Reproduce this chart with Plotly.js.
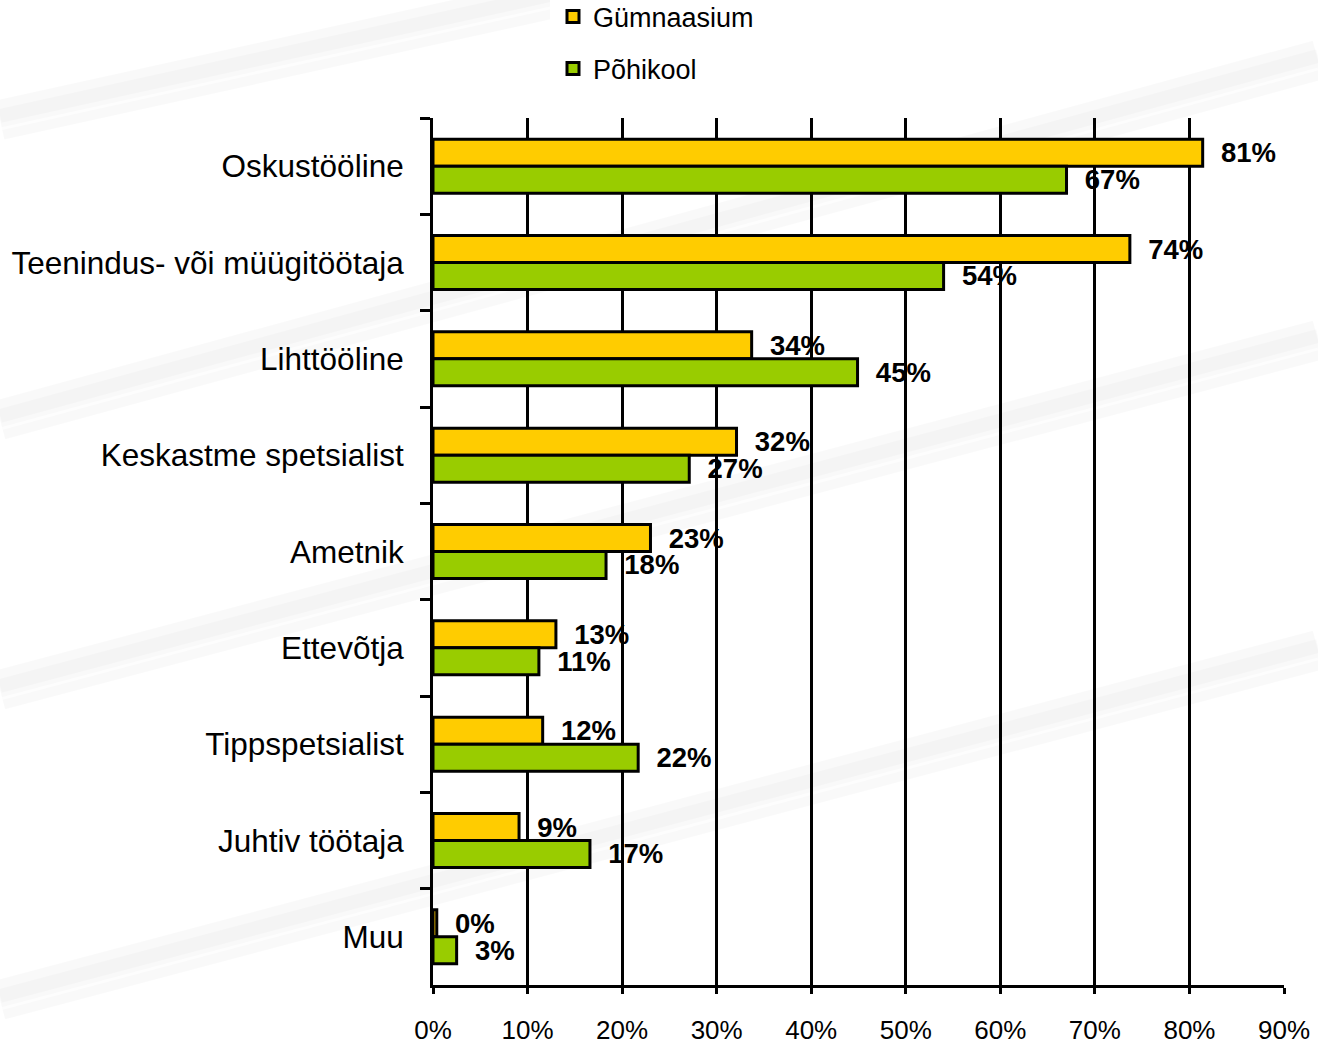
<!DOCTYPE html>
<html>
<head>
<meta charset="utf-8">
<script src="https://cdn.plot.ly/plotly-3.0.1.min.js"></script>
<style>
  html, body { margin: 0; padding: 0; background: #fff; }
  #chart { width: 1318px; height: 1046px; }
</style>
</head>
<body>
<div id="chart"></div>
<script>
// categories, top to bottom
var categories = ["Oskustööline", "Teenindus- või müügitöötaja", "Lihttööline",
  "Keskastme spetsialist", "Ametnik", "Ettevõtja", "Tippspetsialist",
  "Juhtiv töötaja", "Muu"];

// values (%)
var gymnasium = [81.4, 73.7, 33.7, 32.1, 23.0, 13.0, 11.6, 9.1, 0.4];
var basicSchool = [67.0, 54.0, 44.9, 27.1, 18.3, 11.2, 21.7, 16.6, 2.5];

// printed labels
var gymnasiumLabels = ["81%", "74%", "34%", "32%", "23%", "13%", "12%", "9%", "0%"];
var basicSchoolLabels = ["67%", "54%", "45%", "27%", "18%", "11%", "22%", "17%", "3%"];

var xTicks = [0, 10, 20, 30, 40, 50, 60, 70, 80, 90];
var xTickText = xTicks.map(function (v) { return v + "%"; });

var font = "Liberation Sans, Arial, sans-serif";

// plot area in pixels, used to place decorations in paper coords
var L = 433, R = 1284, T = 118, B = 985;
function px(x) { return (x - L) / (R - L); }
function py(y) { return (B - y) / (B - T); }

function barTrace(name, values, labels, color) {
  return {
    type: "bar",
    orientation: "h",
    name: name,
    y: categories,
    x: values,
    text: labels,
    texttemplate: "\u00a0\u00a0%{text}",
    textposition: "outside",
    constraintext: "none",
    cliponaxis: false,
    textfont: { family: font, size: 27.5, color: "#000", weight: "bold" },
    marker: { color: color, line: { color: "#000", width: 3 } },
    showlegend: false,
    hoverinfo: "x+y"
  };
}

// legend-only entries (square swatches with a heavy black rim)
function legendTrace(name, color, legendId) {
  return {
    type: "scatter",
    mode: "markers",
    name: name,
    x: [null],
    y: [null],
    marker: { symbol: "square", size: 12, color: color, line: { color: "#000", width: 3 } },
    legend: legendId,
    hoverinfo: "skip"
  };
}

var data = [
  barTrace("Gümnaasium", gymnasium, gymnasiumLabels, "#FFCC00"),
  barTrace("Põhikool", basicSchool, basicSchoolLabels, "#99CC00"),
  legendTrace("Gümnaasium", "#FFCC00", "legend"),
  legendTrace("Põhikool", "#99CC00", "legend2")
];

// faint diagonal streaks of the background
var streaks = [
  [0, 120, 1318, -170],
  [0, 420, 1318, 60],
  [0, 690, 1318, 340],
  [0, 1000, 1318, 650]
];
var shapes = [];
streaks.forEach(function (s) {
  shapes.push({
    type: "line", xref: "paper", yref: "paper", layer: "below",
    x0: px(s[0]), y0: py(s[1]), x1: px(s[2]), y1: py(s[3]),
    line: { color: "rgba(0,0,0,0.025)", width: 40 }
  });
  shapes.push({
    type: "line", xref: "paper", yref: "paper", layer: "below",
    x0: px(s[0]), y0: py(s[1] - 4), x1: px(s[2]), y1: py(s[3] - 4),
    line: { color: "rgba(0,0,0,0.02)", width: 14 }
  });
  shapes.push({
    type: "line", xref: "paper", yref: "paper", layer: "below",
    x0: px(s[0]), y0: py(s[1] + 9), x1: px(s[2]), y1: py(s[3] + 9),
    line: { color: "rgba(255,255,255,0.6)", width: 3 }
  });
});
// white legend box
shapes.push({
  type: "rect", xref: "paper", yref: "paper", layer: "below",
  x0: px(550), x1: px(770), y0: py(95), y1: py(0),
  fillcolor: "#fff", line: { width: 0 }
});

var legendBase = {
  xanchor: "left", yanchor: "middle",
  bgcolor: "rgba(0,0,0,0)", borderwidth: 0,
  font: { family: font, size: 27, color: "#000" }
};

var layout = {
  width: 1318,
  height: 1046,
  margin: { l: L, r: 1318 - R, t: T, b: 1046 - B, pad: 0, autoexpand: false },
  paper_bgcolor: "#fff",
  plot_bgcolor: "rgba(0,0,0,0)",
  font: { family: font, color: "#000" },
  barmode: "group",
  bargap: 0.44,
  bargroupgap: 0,
  showlegend: true,
  legend: Object.assign({ x: px(553), y: py(17) }, legendBase),
  legend2: Object.assign({ x: px(553), y: py(69) }, legendBase),
  xaxis: {
    range: [0, 90],
    tickmode: "array",
    tickvals: xTicks,
    ticktext: xTickText,
    showgrid: true,
    gridcolor: "#000",
    gridwidth: 3,
    zeroline: false,
    showline: true,
    linecolor: "#000",
    linewidth: 3,
    ticks: "outside",
    ticklen: 6,
    tickwidth: 3,
    tickcolor: "#000",
    ticklabelstandoff: 14,
    tickfont: { family: font, size: 26, color: "#000" },
    fixedrange: true
  },
  yaxis: {
    autorange: "reversed",
    type: "category",
    showgrid: false,
    zeroline: false,
    showline: true,
    linecolor: "#000",
    linewidth: 3,
    ticks: "outside",
    tickson: "boundaries",
    ticklen: 10,
    tickwidth: 3,
    tickcolor: "#000",
    ticklabelstandoff: 20,
    tickfont: { family: font, size: 31.5, color: "#000" },
    fixedrange: true
  },
  shapes: shapes
};

Plotly.newPlot("chart", data, layout, { displayModeBar: false, staticPlot: true });
</script>
</body>
</html>
